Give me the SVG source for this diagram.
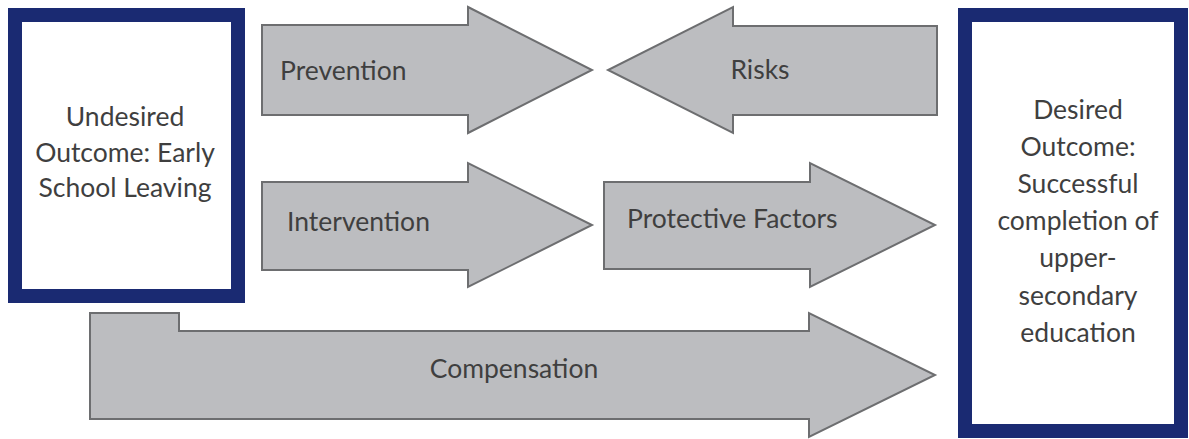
<svg xmlns="http://www.w3.org/2000/svg" width="1189" height="439" viewBox="0 0 1189 439">
<style>
.arrow{fill:#bcbdc0;stroke:#6d6e70;stroke-width:2;stroke-linejoin:miter}
.box{fill:#ffffff;stroke:#1a2a72;stroke-width:14}
.t{font-family:Lato,"Liberation Sans",sans-serif;font-size:26.5px;fill:#3f3f3f}
.c{text-anchor:middle}
</style>
<rect width="1189" height="439" fill="#ffffff"/>
<g id="undesired">
<rect class="box" x="15" y="15" width="223" height="281"/>
<text class="t c" x="125" y="126">Undesired</text>
<text class="t c" x="125" y="162">Outcome: Early</text>
<text class="t c" x="125" y="197">School Leaving</text>
</g>
<g id="desired">
<rect class="box" x="965" y="15" width="216" height="416"/>
<text class="t c" x="1078" y="119">Desired</text>
<text class="t c" x="1078" y="156">Outcome:</text>
<text class="t c" x="1078" y="193">Successful</text>
<text class="t c" x="1078" y="230">completion of</text>
<text class="t c" x="1078" y="267">upper-</text>
<text class="t c" x="1078" y="305">secondary</text>
<text class="t c" x="1078" y="342">education</text>
</g>
<g id="connectors">
<g id="prevention">
<path class="arrow" d="M262,25 L468,25 L468,7 L592,70 L468,133 L468,115 L262,115 Z"/>
<text class="t" x="280" y="80">Prevention</text>
</g>
<g id="risks">
<path class="arrow" d="M937,26 L733,26 L733,7 L608,70 L733,133 L733,115 L937,115 Z"/>
<text class="t c" x="760" y="79">Risks</text>
</g>
<g id="intervention">
<path class="arrow" d="M262,182 L468,182 L468,163 L592,225 L468,287 L468,270 L262,270 Z"/>
<text class="t" x="287" y="231">Intervention</text>
</g>
<g id="protective">
<path class="arrow" d="M604,182 L810,182 L810,163 L935,225 L810,287 L810,269 L604,269 Z"/>
<text class="t" x="627" y="228">Protective Factors</text>
</g>
<g id="compensation">
<path class="arrow" d="M90,313 L179,313 L179,331 L809,331 L809,313 L935,375 L809,437 L809,419 L90,419 Z"/>
<text class="t c" x="514" y="378">Compensation</text>
</g>
</g>
</svg>
